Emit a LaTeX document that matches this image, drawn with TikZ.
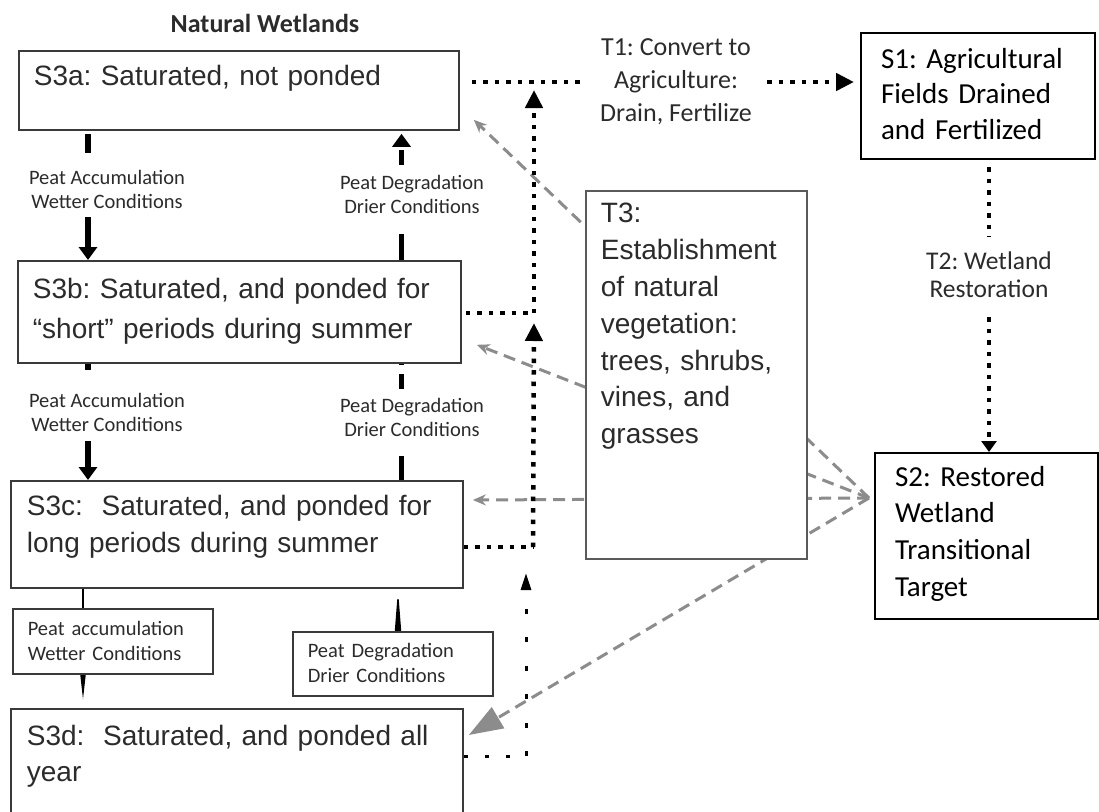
\documentclass[tikz,border=0pt]{standalone}
\usepackage{fontspec}
\setmainfont{Carlito}
\newfontfamily\arialfont{Liberation Sans}
\usetikzlibrary{arrows.meta, positioning, calc, backgrounds}
\definecolor{boxgray}{HTML}{3A3A3A}
\definecolor{txtgray}{HTML}{2B2B2B}
\definecolor{dashgray}{HTML}{8C8C8C}
\definecolor{tgray}{HTML}{5A5A5A}
\frenchspacing

\begin{document}
\begin{tikzpicture}[
    x=1pt, y=-1pt,
    statebox/.style={draw=boxgray, line width=1.8pt, fill=white, anchor=north west, align=left, text=txtgray, text height=20pt, font=\arialfont\fontsize{28}{37}\selectfont},
    calbox/.style={draw=black, line width=2pt, fill=white, anchor=north west, align=left, text height=21pt, inner xsep=20pt},
    peatlabel/.style={align=center, text=txtgray, font=\fontsize{20.5}{24}\selectfont, inner sep=3pt, anchor=north},
    peatbox/.style={draw=boxgray, line width=1.6pt, anchor=north west, align=left, text=txtgray, font=\fontsize{20.5}{25}\selectfont, text height=14pt, inner xsep=15pt},
    translabel/.style={align=center, text=txtgray, inner sep=3pt},
    peat/.style={line width=5.5pt, draw=black},
    peatarrow/.style={peat, -{Triangle[length=13pt, width=18pt]}},
    stemline/.style={line width=1.5pt, draw=black},
    dotline/.style={line width=4.5pt, dash pattern=on 4.5pt off 7pt},
    dotarrow/.style={dotline, -{Triangle[length=18pt, width=17pt]}},
    sparsedots/.style={line width=3pt, dash pattern=on 5pt off 23.5pt},
    grayline/.style={draw=dashgray, line width=3pt, dash pattern=on 12pt off 7pt, -{Stealth[length=13pt, width=11pt]}}
]
    \useasboundingbox (0,0) rectangle (1099,811);

    % Natural wetlands column
    \node[font=\bfseries\fontsize{26}{30}\selectfont, text=txtgray] (title) at (265,23) {Natural Wetlands};
    \node[statebox, text width=410pt, inner xsep=15pt, inner ysep=15pt, text depth=29pt] (s3a) at (18,50) {S3a: Saturated, not ponded};
    \node[statebox, text width=413pt, inner xsep=15pt, inner ysep=18pt, text depth=46pt, font=\arialfont\fontsize{28}{40}\selectfont] (s3b) at (17,260) {S3b: Saturated, and ponded for\\“short” periods during summer};
    \node[statebox, text width=420pt, inner xsep=16pt, inner ysep=15pt, text depth=57pt] (s3c) at (10,480) {S3c:~ Saturated, and ponded for\\long periods during summer};
    \node[statebox, text width=420pt, inner xsep=16pt, inner ysep=17pt, text depth=68pt, font=\arialfont\fontsize{28}{35.5}\selectfont] (s3d) at (10,708) {S3d:~ Saturated, and ponded all\\year};

    % Peat labels
    \node[peatlabel] (acc1) at (107,167) {Peat Accumulation\\Wetter Conditions};
    \node[peatlabel] (deg1) at (412,172) {Peat Degradation\\Drier Conditions};
    \node[peatlabel] (acc2) at (107,390) {Peat Accumulation\\Wetter Conditions};
    \node[peatlabel] (deg2) at (412,395) {Peat Degradation\\Drier Conditions};
    \node[peatbox, text width=170pt, inner ysep=13pt, text depth=25pt] (acc3) at (12,608) {Peat accumulation\\Wetter Conditions};
    \node[peatbox, text width=170pt, inner ysep=12pt, text depth=26pt] (deg3) at (292,631) {Peat Degradation\\Drier Conditions};

    % Agriculture and restoration
    \node[translabel, font=\fontsize{26}{33}\selectfont] (t1) at (676,82) {T1: Convert to\\Agriculture:\\Drain, Fertilize};
    \node[calbox, text width=194pt, inner ysep=14pt, text depth=77pt, font=\fontsize{29}{35.5}\selectfont] (s1) at (860,32) {S1: Agricultural\\Fields Drained\\and Fertilized};
    \node[translabel, font=\fontsize{25.5}{28}\selectfont] (t2) at (989,275) {T2: Wetland\\Restoration};
    \node[calbox, text width=183pt, inner ysep=12pt, text depth=121pt, font=\fontsize{29}{36.7}\selectfont] (s2) at (874,452) {S2: Restored\\Wetland\\Transitional\\Target};
    \node[draw=tgray, line width=1.8pt, fill=white, anchor=north west, align=left, text=txtgray, text width=191pt, inner xsep=15pt, inner ysep=12pt, text height=20pt, text depth=324pt, font=\arialfont\fontsize{28}{36.8}\selectfont] (t3) at (585,190) {T3:\\Establishment\\of natural\\vegetation:\\trees, shrubs,\\vines, and\\grasses};

    % Helper points
    \coordinate (wetx) at (88,0);
    \coordinate (dryx) at (401.5,0);
    \coordinate (wetx3) at (83,0);
    \coordinate (dryx3) at (398,0);
    \coordinate (jA) at (534,82);
    \coordinate (jB) at (534,313);
    \coordinate (jC) at (533,547);
    \coordinate (jD) at (526,756);
    \coordinate (conv) at (869,498);

    % T3 links (behind the T3 box)
    \begin{scope}[on background layer]
        \draw[grayline] (conv) -- ([xshift=14pt, yshift=11pt]s3a.south east);
        \draw[grayline] (conv) -- ([xshift=15pt, yshift=19pt]s3b.south east);
        \draw[grayline] (conv) -- ([xshift=9pt, yshift=-20pt]s3c.north east);
        \draw[grayline, -{Triangle[length=34pt, width=24pt]}] (conv) -- ([xshift=5pt, yshift=-27pt]s3d.north east);
    \end{scope}

    % Peat links
    \draw[peat, shorten <=3pt, shorten >=14pt] (s3a.south -| wetx) -- (acc1.north -| wetx);
    \draw[peatarrow, shorten <=5pt] (acc1.south -| wetx) -- (s3b.north -| wetx);
    \draw[peatarrow, dash pattern=on 15pt off 5pt, shorten <=7pt, shorten >=3pt] (deg1.north -| dryx) -- (s3a.south -| dryx);
    \draw[peat, shorten >=17pt] (s3b.north -| dryx) -- (deg1.south -| dryx);
    \draw[peat, shorten >=20pt] (s3b.south -| wetx) -- (acc2.north -| wetx);
    \draw[peatarrow, shorten <=6pt] (acc2.south -| wetx) -- (s3c.north -| wetx);
    \draw[peat, dash pattern=on 15pt off 9pt, shorten <=6pt] (deg2.north -| dryx) -- (s3b.south -| dryx);
    \draw[peat, shorten >=16pt] (s3c.north -| dryx) -- (deg2.south -| dryx);
    \draw[stemline] (s3c.south -| wetx3) -- (acc3.north -| wetx3);
    \draw[stemline, -{Triangle[length=25pt, width=5pt]}, shorten >=8pt] (acc3.south -| wetx3) -- (s3d.north -| wetx3);
    \draw[stemline, -{Triangle[length=42pt, width=6pt]}] (deg3.north -| dryx3) -- (s3c.south -| dryx3);

    % Conversion links
    \draw[dotline, shorten <=12pt, shorten >=15pt] (s3a.east |- jA) -- (t1.west);
    \draw[dotarrow, shorten <=12pt, shorten >=6pt] (t1.east) -- (s1.west |- jA);
    \draw[dotline, shorten <=4pt] (s3b.east |- jB) -- (jB);
    \draw[dotline] (s3c.east |- jC) -- (jC);
    \draw[dotarrow, shorten >=8pt] (jB) -- (jA);
    \draw[dotarrow, shorten >=10pt] (jC) -- (jB);
    \draw[sparsedots, dash pattern=on 4pt off 17pt] (s3d.east |- jD) -- (jD);
    \draw[sparsedots, -{Triangle[length=17pt, width=10pt]}, shorten >=26pt] (jD) -- (jD |- jC);
    \draw[dotline, line width=4pt, shorten <=7pt, shorten >=12pt] (s1.south -| t2) -- (t2.north);
    \draw[dotline, line width=4pt, -{Triangle[length=11pt, width=15pt]}, shorten <=16pt] (t2.south) -- (s2.north -| t2);
\end{tikzpicture}
\end{document}
